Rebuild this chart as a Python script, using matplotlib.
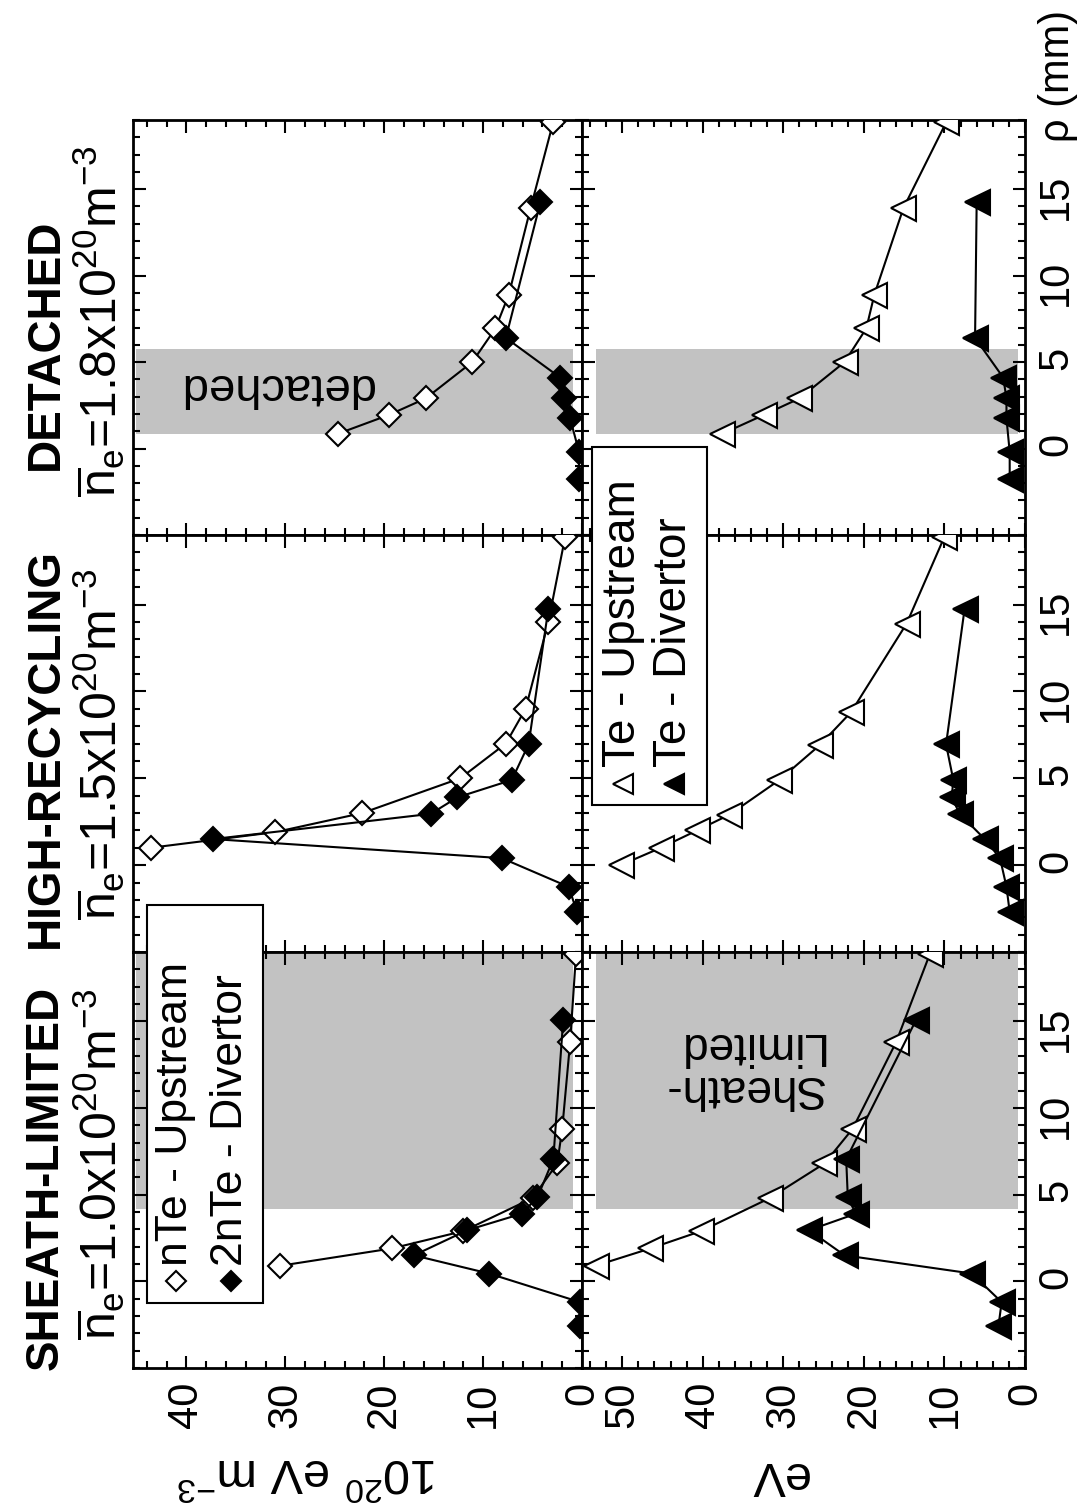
import matplotlib
matplotlib.use("Agg")
import matplotlib.pyplot as plt
from matplotlib.patches import Rectangle
from matplotlib.ticker import MultipleLocator, FixedLocator

plt.rcParams['font.family'] = ['Liberation Sans', 'DejaVu Sans']
plt.rcParams['mathtext.fontset'] = 'custom'
plt.rcParams['mathtext.rm'] = 'Liberation Sans'
plt.rcParams['mathtext.it'] = 'Liberation Sans:italic'
plt.rcParams['mathtext.bf'] = 'Liberation Sans:bold'

# === DATA (rho in mm, nTe in 1e20 eV m^-3, Te in eV) ===
# sheath-limited
sl_up_rho  = [0.9, 1.9, 2.9, 4.8, 6.8, 8.8, 13.8, 18.9]
sl_up_nte  = [30.5, 19.2, 12.0, 5.0, 2.5, 2.0, 1.2, 0.6]
sl_up_te   = [53.3, 46.5, 40.2, 31.7, 24.9, 21.4, 16.0, 11.8]
sl_div_rho = [-2.6, -1.2, 0.45, 1.5, 2.95, 3.9, 4.85, 7.05, 15.1]
sl_div_nte = [0.2, 0.2, 9.4, 17.0, 11.6, 6.1, 4.5, 2.9, 1.9]
sl_div_te  = [3.3, 2.9, 6.6, 22.4, 26.8, 21.0, 22.0, 22.2, 13.5]

# high-recycling
hr_up_rho_n  = [1.0, 1.9, 3.0, 5.0, 7.0, 9.0, 14.0, 18.9]
hr_up_nte    = [43.6, 31.0, 22.2, 12.3, 7.7, 5.7, 3.4, 1.7]
hr_up_rho_t  = [0.0, 1.0, 2.0, 2.9, 4.9, 6.9, 8.8, 13.9, 18.9]
hr_up_te     = [50.2, 45.2, 40.7, 36.7, 30.5, 25.5, 21.6, 14.7, 10.0]
hr_div_rho   = [-2.7, -1.25, 0.4, 1.5, 2.95, 3.9, 4.9, 6.95, 14.75]
hr_div_nte   = [0.5, 1.35, 8.1, 37.3, 15.3, 12.6, 7.1, 5.4, 3.4]
hr_div_te    = [1.9, 2.3, 3.1, 5.0, 8.1, 9.1, 8.9, 9.8, 7.5]

# detached
dt_up_rho  = [0.85, 1.95, 2.9, 5.0, 6.95, 8.9, 13.9, 18.9]
dt_up_nte  = [24.7, 19.5, 15.8, 11.1, 8.75, 7.4, 5.2, 2.9]
dt_up_te   = [37.6, 32.4, 28.0, 22.4, 19.7, 18.7, 15.1, 9.75]
dt_div_rho = [-1.75, -0.2, 1.75, 2.9, 4.1, 6.4, 14.25]
dt_div_nte = [0.3, 0.3, 1.2, 1.85, 2.2, 7.7, 4.2]
dt_div_te  = [1.9, 1.9, 2.3, 2.3, 2.7, 6.2, 6.0]

# shaded regions (rho span)
sl_shade = (4.2, 19.0)
dt_shade = (0.85, 5.75)

titles  = ["DETACHED", "HIGH-RECYCLING", "SHEATH-LIMITED"]
density = ["1.8", "1.5", "1.0"]

# === LAYOUT (pixels of the 1077x1503 picture) ===
W, H = 1077, 1503
fig = plt.figure(figsize=(W / 100, H / 100), dpi=100)
rows = [(120, 535), (535, 952), (952, 1368)]
col_n = (133, 582)
col_t = (582, 1025)
SHADE = '#c2c2c2'


def add_panel(xr, yr):
    x0, x1 = xr
    y0, y1 = yr
    return fig.add_axes([x0 / W, 1 - y1 / H, (x1 - x0) / W, (y1 - y0) / H])


def style(ax, vmax, major, labels_bottom):
    ax.set_xlim(vmax, 0)
    ax.set_ylim(-5, 19)
    ax.xaxis.set_major_locator(FixedLocator(major))
    ax.xaxis.set_minor_locator(MultipleLocator(2))
    ax.yaxis.set_major_locator(FixedLocator([0, 5, 10, 15]))
    ax.yaxis.set_minor_locator(MultipleLocator(1))
    ax.tick_params(which='both', direction='in', top=True, bottom=True,
                   left=True, right=True, width=1.5)
    ax.tick_params(which='major', length=9)
    ax.tick_params(which='minor', length=5)
    ax.tick_params(axis='x', labelbottom=labels_bottom, labelsize=30,
                   labelrotation=90, pad=10)
    ax.tick_params(axis='y', labelleft=False, labelright=False)
    for s in ax.spines.values():
        s.set_linewidth(2.0)


def plot_up(ax, rho, v, marker):
    ax.plot(v, rho, '-', color='k', lw=1.5, marker=marker, ms=12 if marker == 'D' else 18,
            mfc='white', mec='k', mew=1.5, zorder=3)


def plot_div(ax, rho, v, marker):
    ax.plot(v, rho, '-', color='k', lw=1.5, marker=marker, ms=12 if marker == 'D' else 18,
            mfc='k', mec='k', mew=1.5, zorder=4)


data_n = [(dt_up_rho, dt_up_nte, dt_div_rho, dt_div_nte),
          (hr_up_rho_n, hr_up_nte, hr_div_rho, hr_div_nte),
          (sl_up_rho, sl_up_nte, sl_div_rho, sl_div_nte)]
data_t = [(dt_up_rho, dt_up_te, dt_div_rho, dt_div_te),
          (hr_up_rho_t, hr_up_te, hr_div_rho, hr_div_te),
          (sl_up_rho, sl_up_te, sl_div_rho, sl_div_te)]
shades = [dt_shade, None, sl_shade]

axes_n, axes_t = [], []
for i, yr in enumerate(rows):
    last = (i == 2)
    an = add_panel(col_n, yr)
    at = add_panel(col_t, yr)
    style(an, 45.4, [0, 10, 20, 30, 40], last)
    style(at, 55, [0, 10, 20, 30, 40, 50], last)
    at.tick_params(axis='y', labelright=True, labelsize=30, labelrotation=90, pad=8)
    if shades[i]:
        r0, r1 = shades[i]
        an.fill_between([0.9, 45.1], r0, r1, color=SHADE, lw=0, zorder=1)
        at.fill_between([0.9, 53.2], r0, r1, color=SHADE, lw=0, zorder=1)
    ur, uv, dr, dv = data_n[i]
    plot_up(an, ur, uv, 'D')
    plot_div(an, dr, dv, 'D')
    ur, uv, dr, dv = data_t[i]
    plot_up(at, ur, uv, '<')
    plot_div(at, dr, dv, '<')
    axes_n.append(an)
    axes_t.append(at)

axes_n[0].text(31, 3.6, 'detached', rotation=180, ha='center', va='center',
               fontsize=34, zorder=5)
axes_t[2].text(25.1, 12.4, 'Sheath-\nLimited', rotation=180, ha='right', va='center',
               multialignment='left', fontsize=33, linespacing=0.95, zorder=5)

# === OVERLAY: titles, legends, axis labels (pixel coordinates) ===
ov = fig.add_axes([0, 0, 1, 1])
ov.set_xlim(0, W)
ov.set_ylim(H, 0)
ov.axis('off')
ov.set_zorder(10)

title_y = [470, 948, 1370]
dens_y = [497, 920, 1340]
for t, d, ty, dy in zip(titles, density, title_y, dens_y):
    ov.text(46, ty, t, rotation=90, ha='center', va='bottom', fontsize=33,
            fontweight='bold')
    ov.text(99, dy, r'$\overline{\mathrm{n}}_{\mathrm{e}}$=' + d + r'x10$^{20}$m$^{-3}$',
            rotation=90, ha='center', va='bottom', fontsize=36)

# legend for nTe
ov.add_patch(Rectangle((147, 905), 116, 398, facecolor='white', edgecolor='k', lw=1.5))
ov.plot([176], [1281], marker='D', ms=10, mfc='white', mec='k', mew=1.5)
ov.plot([231], [1281], marker='D', ms=10, mfc='k', mec='k', mew=1.5)
ov.text(176, 1266, 'nTe - Upstream', rotation=90, ha='center', va='bottom', fontsize=32)
ov.text(231, 1266, '2nTe - Divertor', rotation=90, ha='center', va='bottom', fontsize=32)

# legend for Te
ov.add_patch(Rectangle((592, 447), 115, 358, facecolor='white', edgecolor='k', lw=1.5))
ov.plot([623], [784], marker='<', ms=14, mfc='white', mec='k', mew=1.5)
ov.plot([674], [784], marker='<', ms=14, mfc='k', mec='k', mew=1.5)
ov.text(623, 767, 'Te - Upstream', rotation=90, ha='center', va='bottom', fontsize=33)
ov.text(674, 767, 'Te - Divertor', rotation=90, ha='center', va='bottom', fontsize=33)

# axis labels
ov.text(308, 1472, r'10$^{20}$ eV m$^{-3}$', rotation=180, ha='center', va='center',
        fontsize=35)
ov.text(778, 1474, 'eV', rotation=180, ha='center', va='center', fontsize=35)
ov.text(1058, 142, 'ρ (mm)', rotation=90, ha='center', va='bottom', fontsize=30)

fig.savefig("out.png", dpi=100)
